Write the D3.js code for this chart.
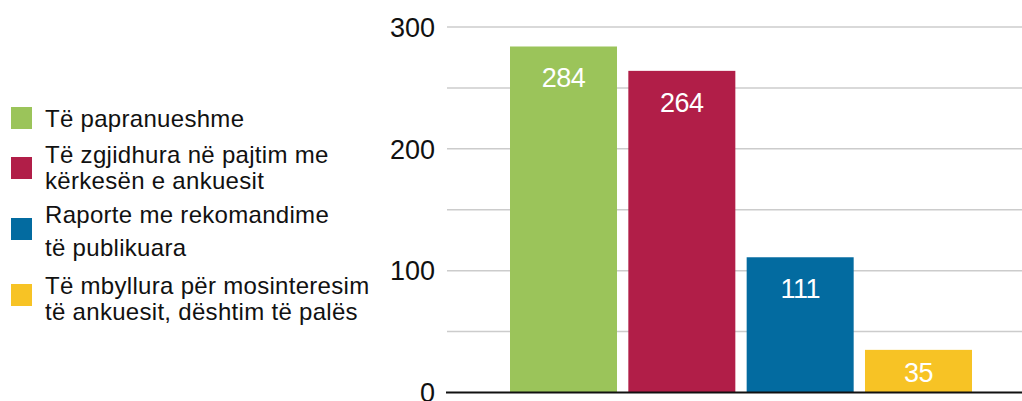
<!DOCTYPE html>
<html><head><meta charset="utf-8">
<script src="https://cdn.jsdelivr.net/npm/d3@7"></script>
<style>body{margin:0;background:#fff}svg{display:block}</style>
</head><body>
<svg id="c" width="1022" height="401"></svg>
<script>
const categories = ["Të papranueshme", "Të zgjidhura në pajtim me kërkesën e ankuesit", "Raporte me rekomandime të publikuara", "Të mbyllura për mosinteresim të ankuesit, dështim të palës"];
const values = [284, 264, 111, 35];
const colors = ["#9BC45A", "#B11E48", "#036BA0", "#F7C325"];
const legendLines = [["Të papranueshme"], ["Të zgjidhura në pajtim me", "kërkesën e ankuesit"], ["Raporte me rekomandime", "të publikuara"], ["Të mbyllura për mosinteresim", "të ankuesit, dështim të palës"]];
const gridTicks = [0, 50, 100, 150, 200, 250, 300];
const labelTicks = [0, 100, 200, 300];

const svg = d3.select("#c");
const font = "'Liberation Sans', Arial, sans-serif";
const y = d3.scaleLinear().domain([0, 300]).range([392.5, 27]);
const x = d3.scaleBand().domain(categories).range([510, 972]).paddingInner(0.0957).paddingOuter(0);

// gridlines
svg.append("g").selectAll("line").data(gridTicks.filter(d => d > 0)).join("line")
  .attr("x1", 447).attr("x2", 1022)
  .attr("y1", d => y(d)).attr("y2", d => y(d))
  .attr("stroke", "#cccccc").attr("stroke-width", 1.5);

// axis labels
svg.append("g").selectAll("text").data(labelTicks).join("text")
  .attr("x", 435).attr("y", d => y(d)).attr("dy", "0.36em")
  .attr("text-anchor", "end").attr("font-family", font).attr("font-size", 27)
  .attr("fill", "#111")
  .text(d => d);

// bars
svg.append("g").selectAll("rect").data(values).join("rect")
  .attr("x", (d, i) => x(categories[i])).attr("width", x.bandwidth())
  .attr("y", d => y(d)).attr("height", d => y(0) - y(d))
  .attr("fill", (d, i) => colors[i]);

// baseline
svg.append("line").attr("x1", 446).attr("x2", 1022).attr("y1", y(0)).attr("y2", y(0))
  .attr("stroke", "#111").attr("stroke-width", 2);

// value labels
svg.append("g").selectAll("text").data(values).join("text")
  .attr("x", (d, i) => x(categories[i]) + x.bandwidth() / 2)
  .attr("y", d => Math.min(y(d) + 41, (y(d) + y(0)) / 2 + 11))
  .attr("text-anchor", "middle").attr("font-family", font).attr("font-size", 27)
  .attr("fill", "#fff").style("letter-spacing", "-0.5px")
  .text(d => d);

// legend
const sqY = [107, 157, 218, 284];
const baseY = [[127], [163, 189], [223, 256], [294, 320]];
const lg = svg.append("g");
categories.forEach((c, i) => {
  lg.append("rect").attr("x", 11).attr("y", sqY[i]).attr("width", 21).attr("height", 22).attr("fill", colors[i]);
  legendLines[i].forEach((t, j) => {
    lg.append("text").attr("x", 45).attr("y", baseY[i][j])
      .attr("font-family", font).attr("font-size", 24).attr("fill", "#111")
      .style("letter-spacing", "0.3px").text(t);
  });
});
</script>
</body></html>
